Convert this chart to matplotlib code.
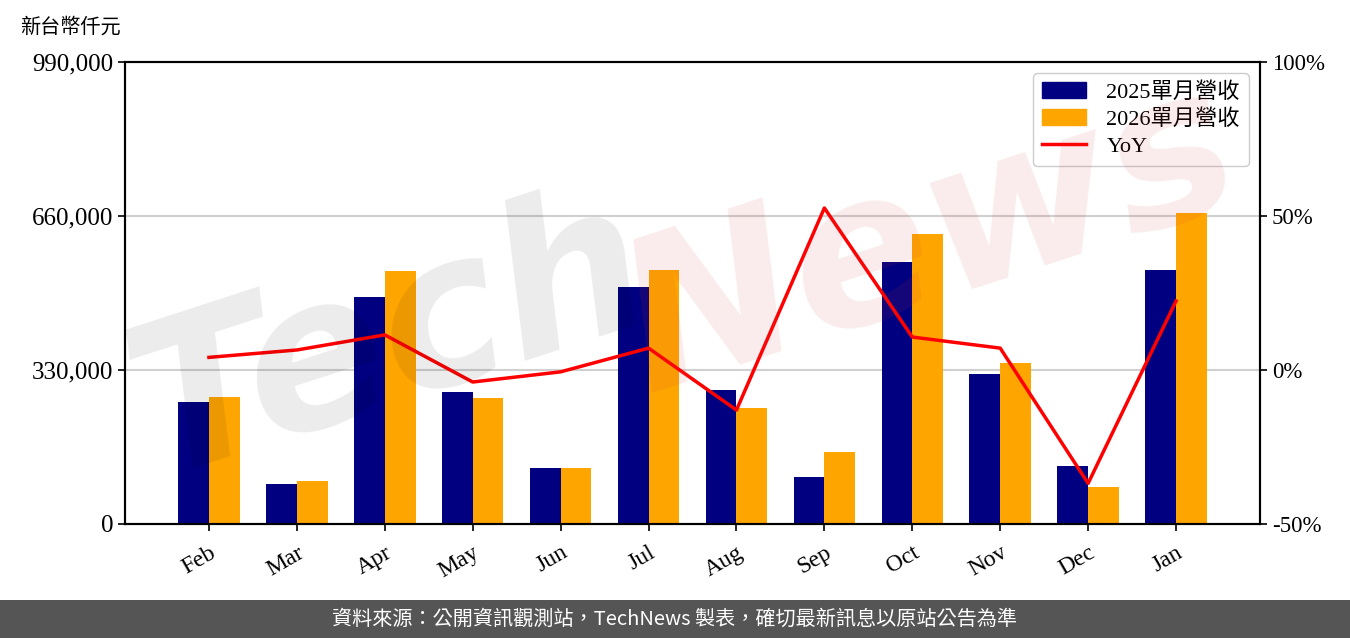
import matplotlib
matplotlib.use("Agg")
import matplotlib.pyplot as plt
from matplotlib.patches import Patch
from matplotlib.lines import Line2D
import numpy as np

months = ["Feb", "Mar", "Apr", "May", "Jun", "Jul", "Aug", "Sep", "Oct", "Nov", "Dec", "Jan"]
rev_2025 = [261400, 85700, 486400, 282900, 120000, 507900, 287100, 100700, 561400, 321400, 124300, 544300]
rev_2026 = [272100, 92100, 542100, 270000, 120000, 544300, 248600, 154300, 621400, 345000, 79300, 666400]
yoy = [4.1, 6.5, 11.4, -3.9, -0.6, 7.1, -13.0, 52.6, 10.7, 7.1, -36.8, 22.4]

left_ticks = [0, 330000, 660000, 990000]
right_ticks = [-50, 0, 50, 100]

LAT = ["Liberation Serif", "Noto Sans CJK TC"]
CJK = ["Noto Sans CJK TC", "DejaVu Sans"]

fig = plt.figure(figsize=(13.5, 6.38), dpi=100)
W, H = 1350, 638
ax = fig.add_axes([125 / W, 1 - 524 / H, (1260 - 125) / W, (524 - 62) / H])

x = np.arange(len(months))
bw = 0.35
ax.bar(x - bw / 2, rev_2025, width=bw, color="#000080", zorder=2)
ax.bar(x + bw / 2, rev_2026, width=bw, color="#FFA500", zorder=2)
ax.set_xlim(-0.955, len(months) - 1 + 0.955)
ax.set_ylim(0, 990000)
ax.set_yticks(left_ticks)
ax.set_yticklabels([f"{v:,}" for v in left_ticks], fontfamily=LAT, fontsize=18)
ax.set_xticks(x)
ax.set_xticklabels(months, rotation=30, ha="right", rotation_mode="anchor", fontfamily=LAT, fontsize=17)
ax.yaxis.grid(True, color="#d0d0d0", linewidth=1.5, zorder=0)
ax.set_axisbelow(True)
for s in ax.spines.values():
    s.set_linewidth(1.5)
ax.tick_params(axis="both", width=1.2, length=5)
ax.tick_params(axis="x", pad=8)

ax2 = ax.twinx()
ax2.plot(x, yoy, color="#FF0000", linewidth=2.5, zorder=3)
ax2.set_ylim(-50, 100)
ax2.set_yticks(right_ticks)
ax2.set_yticklabels([f"{v}%" for v in right_ticks], fontfamily=LAT, fontsize=16.5)
ax2.tick_params(axis="y", width=1.2, length=5)
for s in ax2.spines.values():
    s.set_linewidth(1.5)

# watermark
fig.text(390 / W, 1 - 340 / H, "Tech", fontsize=150, fontstyle="italic", fontweight="bold",
         color="#000000", alpha=0.08, rotation=18, ha="center", va="center", family="DejaVu Sans")
fig.text(930 / W, 1 - 240 / H, "News", fontsize=150, fontstyle="italic", fontweight="bold",
         color="#d04040", alpha=0.1, rotation=18, ha="center", va="center", family="DejaVu Sans")

handles = [Patch(color="#000080"), Patch(color="#FFA500"), Line2D([], [], color="#FF0000", linewidth=2.5)]
labels = ["2025單月營收", "2026單月營收", "YoY"]
leg = ax2.legend(handles, labels, loc="upper right", prop={"family": LAT, "size": 16},
                 frameon=True, fancybox=True, edgecolor="#cccccc", framealpha=1,
                 borderpad=0.4, labelspacing=0.3, handlelength=2.0, handletextpad=0.9)

fig.text(20 / W, 1 - 27 / H, "新台幣仟元", fontsize=14.5, family=CJK, ha="left", va="center")

fig.patches.append(plt.Rectangle((0, 0), 1, 38 / H, transform=fig.transFigure,
                                 facecolor="#555555", edgecolor="none", zorder=0))
fig.text(0.5, 19 / H, "資料來源：公開資訊觀測站，TechNews 製表，確切最新訊息以原站公告為準",
         fontsize=14.5, family=CJK, color="white", ha="center", va="center")

fig.savefig("out.png", dpi=100)
